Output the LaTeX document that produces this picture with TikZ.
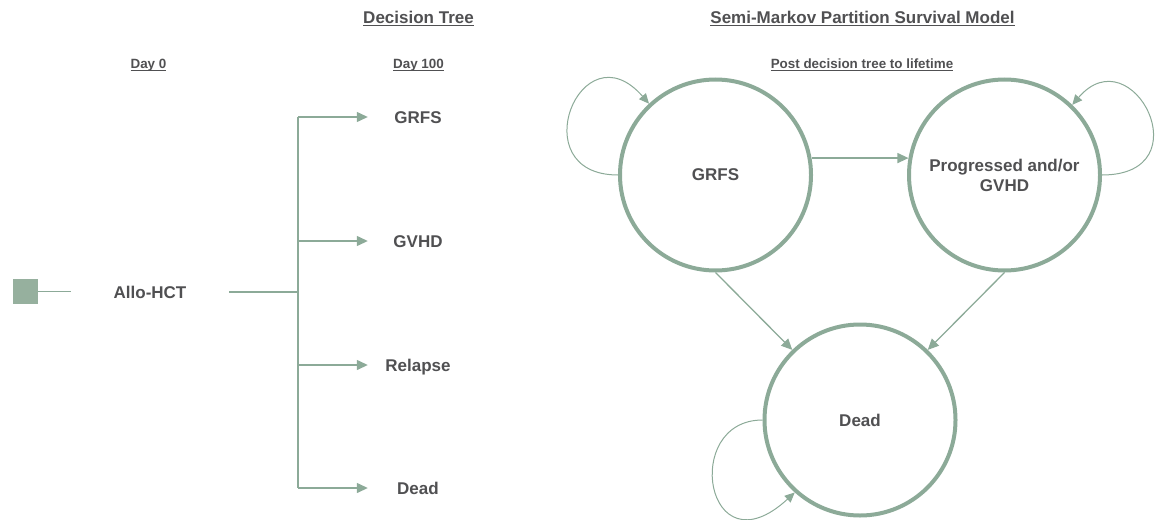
\documentclass[tikz,border=0pt]{standalone}
\usepackage{fontspec}
\setmainfont{Liberation Sans}
\usetikzlibrary{arrows.meta}
\definecolor{sage}{RGB}{140,170,152}
\definecolor{sagefill}{RGB}{150,176,158}
\definecolor{ink}{RGB}{80,80,82}
\newcommand\ulx[1]{\setbox0\hbox{#1}\rlap{\rule[-2.4pt]{\wd0}{1.1pt}}\box0}
\begin{document}
\begin{tikzpicture}[x=1pt,y=-1pt,
  lbl/.style={font=\fontsize{17}{20}\selectfont\bfseries, text=ink, inner sep=0pt, text height=12.2pt, text depth=0pt},
  hdr/.style={font=\fontsize{17}{20}\selectfont\bfseries, text=ink, inner sep=0pt, anchor=base},
  sub/.style={font=\fontsize{13.4}{16}\selectfont\bfseries, text=ink, inner sep=0pt, anchor=base},
  conn/.style={draw=sage, line width=1.3pt},
  arr/.style={conn, -{Triangle[length=11pt,width=10pt]}},
  state/.style={circle, draw=sage, line width=4pt, minimum size=191pt, inner sep=0pt,
    font=\fontsize{17}{20}\selectfont\bfseries, text=ink, align=center},
  selfloop/.style={draw=sage, line width=1pt, -{Triangle[length=10pt,width=9pt]}}]
\useasboundingbox (0,0) rectangle (1155,519);

% headers
\node[hdr] (h1) at (418.5,24) {\ulx{Decision Tree}};
\node[hdr] (h2) at (862.5,24) {\ulx{Semi-Markov Partition Survival Model}};
\node[sub] (d0) at (148.5,68.5) {\ulx{Day 0}};
\node[sub] (d100) at (418.5,68.5) {\ulx{Day 100}};
\node[sub] (post) at (862,68.5) {\ulx{Post decision tree to lifetime}};

% decision tree
\node[fill=sagefill, minimum size=25pt, inner sep=0pt] (sq) at (25.5,291.5) {};
\node[lbl, minimum width=158pt] (allo) at (150,292) {Allo-HCT};
\draw[conn] (sq.east) -- (sq.east -| allo.west);
\coordinate (j) at (298,292);
\draw[conn] (allo.east) -- (j);
\coordinate (b1) at (298,117);
\coordinate (b2) at (298,241);
\coordinate (b3) at (298,365);
\coordinate (b4) at (298,488);
\draw[conn] (b1) -- (b4);
\node[lbl, minimum width=100pt] (t1) at (418,117) {GRFS};
\node[lbl, minimum width=100pt] (t2) at (418,241) {GVHD};
\node[lbl, minimum width=100pt] (t3) at (418,365) {Relapse};
\node[lbl, minimum width=100pt] (t4) at (418,488) {Dead};
\draw[arr] (b1) -- (t1.west);
\draw[arr] (b2) -- (t2.west);
\draw[arr] (b3) -- (t3.west);
\draw[arr] (b4) -- (t4.west);

% semi-Markov model
\node[state] (g) at (715.5,175) {GRFS};
\node[state] (p) at (1004.5,175) {Progressed and/or\\GVHD};
\node[state] (d) at (860,420) {Dead};
\draw[arr] (g.10) -- (p.170);
\draw[arr] (g.270) -- (d.134);
\draw[arr] (p.270) -- (d.46);
\draw[selfloop] (g.180) .. controls +(-97,0) and +(-68,-78) .. (g.133);
\draw[selfloop] (p.0) .. controls +(102,0) and +(60,-70) .. (p.46);
\draw[selfloop] (d.180) .. controls +(-82,0) and +(-89,82) .. (d.228);
\end{tikzpicture}
\end{document}
